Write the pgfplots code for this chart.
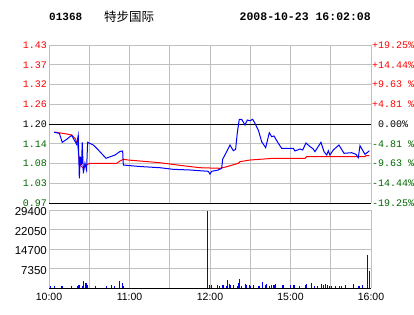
\documentclass[border=0pt]{standalone}
\usepackage{pgfplots}
\pgfplotsset{compat=1.18}
\usepackage{fontspec}
\setmainfont{Liberation Sans}
\newfontfamily\monofont{Liberation Mono}
\newfontfamily\cjk{Noto Sans CJK SC}
\definecolor{gridgray}{RGB}{192,192,192}
\definecolor{dkgreen}{RGB}{0,102,0}
\definecolor{pblue}{RGB}{0,0,255}
\definecolor{pred}{RGB}{255,0,0}
\begin{document}
\begin{tikzpicture}
\useasboundingbox (0pt,0pt) rectangle (414pt,-314pt);
\node[anchor=west, inner sep=0pt, font=\monofont\bfseries\fontsize{11}{11}\selectfont] at (49pt,-17pt) {01368};
\node[anchor=west, inner sep=0pt, font=\cjk\fontsize{12.5}{12.5}\selectfont] at (104pt,-17pt) {特步国际};
\node[anchor=east, inner sep=0pt, font=\monofont\bfseries\fontsize{11.5}{11.5}\selectfont] at (371pt,-17pt) {2008-10-23 16:02:08};
% price panel
\begin{axis}[at={(49pt,-203pt)}, anchor=south west, scale only axis,
  width=322pt, height=158pt,
  xmin=0, xmax=240, ymin=0.969, ymax=1.431,
  xtick={0,30,...,240}, xticklabels={},
  ytick={0.969,1.0268,1.0845,1.1423,1.2,1.2578,1.3155,1.3733,1.431},
  yticklabels={\textcolor{dkgreen}{0.97},\textcolor{dkgreen}{1.03},\textcolor{dkgreen}{1.08},\textcolor{dkgreen}{1.14},\textcolor{black}{1.20},\textcolor{pred}{1.26},\textcolor{pred}{1.32},\textcolor{pred}{1.37},\textcolor{pred}{1.43}},
  yticklabel style={font=\monofont\fontsize{10}{10}\selectfont, inner sep=0pt, xshift=-2pt},
  grid=major, grid style={gridgray, line width=1pt},
  axis line style={draw=none}, major tick length=0pt, clip=false]
\draw[black, line width=1pt] (axis cs:0,1.2) -- (axis cs:240,1.2);
\draw[black, line width=1pt] (axis cs:0,0.969) -- (axis cs:240,0.969);
\addplot[pred, line width=1pt, no marks] coordinates {
(3.9,1.1766)(13.2,1.1708)(16.9,1.1678)(19.4,1.1582)(21.4,1.1386)(22.6,1.0898)(23.8,1.0772)(25.6,1.0705)(27.6,1.0801)(30.6,1.0851)(50.5,1.0851)(52.9,1.0918)(55.4,1.0968)(59.1,1.0947)(67.8,1.0918)(82.7,1.0868)(97.6,1.0792)(112.5,1.0722)(127.4,1.0705)(132.4,1.0751)(141.1,1.0851)(142.3,1.0898)(149.8,1.0947)(157.3,1.0968)(167.2,1.0997)(190.8,1.0997)(192.1,1.1044)(235.5,1.1044)(236.2,1.1073)(238.7,1.1073)};
\addplot[pblue, line width=1pt, no marks] coordinates {
(3.9,1.1757)(7.7,1.1728)(9.9,1.1465)(13.2,1.1553)(16.9,1.1670)(20.6,1.1406)(21.8,1.1670)(22.6,1.0412)(23.3,1.1044)(24.2,1.0801)(24.8,1.1465)(25.6,1.0558)(26.8,1.0851)(28.0,1.0655)(28.8,1.1465)(33.0,1.1386)(35.6,1.1289)(42.5,1.0997)(49.2,1.1094)(52.9,1.1196)(54.9,1.1211)(55.4,1.0801)(59.1,1.0787)(67.8,1.0757)(82.7,1.0722)(92.6,1.0675)(105.1,1.0655)(118.7,1.0617)(120.0,1.0538)(121.3,1.0617)(126.2,1.0655)(128.7,1.0705)(129.4,1.0968)(132.4,1.1190)(134.9,1.1386)(137.4,1.1219)(139.1,1.1260)(140.3,1.1728)(141.8,1.2137)(143.6,1.2137)(146.1,1.1971)(147.8,1.2117)(149.8,1.2096)(151.8,1.2137)(153.5,1.2020)(156.0,1.1825)(158.5,1.1482)(161.5,1.1307)(164.2,1.1746)(166.0,1.1629)(167.7,1.1649)(170.2,1.1482)(173.4,1.1289)(182.1,1.1289)(183.3,1.1211)(187.1,1.1269)(189.1,1.1240)(191.5,1.1444)(194.5,1.1342)(197.0,1.1269)(198.2,1.1190)(202.7,1.1465)(205.0,1.1190)(207.0,1.1094)(208.2,1.1219)(209.4,1.1094)(211.9,1.1240)(216.1,1.1386)(219.9,1.1143)(225.6,1.1161)(228.8,1.1114)(230.5,1.1015)(231.8,1.1366)(235.5,1.1114)(238.0,1.1190)(238.7,1.1219)};
\end{axis}
% right percentage labels
\begin{axis}[at={(49pt,-203pt)}, anchor=south west, scale only axis,
  width=322pt, height=158pt,
  xmin=0, xmax=240, ymin=0.969, ymax=1.431,
  xtick=\empty, yticklabel pos=right,
  ytick={0.969,1.0268,1.0845,1.1423,1.2,1.2578,1.3155,1.3733,1.431},
  yticklabels={\textcolor{dkgreen}{-19.25\%},\textcolor{dkgreen}{-14.44\%},\textcolor{dkgreen}{-9.63\ \%},\textcolor{dkgreen}{-4.81\ \%},\textcolor{black}{\phantom{0}0.00\%},\textcolor{pred}{+4.81\ \%},\textcolor{pred}{+9.63\ \%},\textcolor{pred}{+14.44\%},\textcolor{pred}{+19.25\%}},
  yticklabel style={font=\monofont\fontsize{10}{10}\selectfont, inner sep=0pt, xshift=1pt, anchor=west},
  axis line style={draw=none}, major tick length=0pt]
\end{axis}
% volume panel
\begin{axis}[at={(49pt,-288pt)}, anchor=south west, scale only axis,
  width=322pt, height=78pt,
  xmin=0, xmax=240, ymin=0, ymax=29400,
  scaled y ticks=false,
  xtick={0,30,...,240}, xticklabels={10:00,,11:00,,12:00,,15:00,,16:00},
  xticklabel style={font=\fontsize{10.5}{10.5}\selectfont, inner sep=0pt, yshift=-5pt},
  ytick={7350,14700,22050,29400}, yticklabels={7350,14700,22050,29400},
  yticklabel style={font=\fontsize{11.5}{11.5}\selectfont, inner sep=0pt, xshift=-2pt, yshift=-2pt},
  grid=major, grid style={gridgray, line width=1pt},
  axis line style={draw=none}, major tick length=0pt, clip=false]
\draw[black, line width=1pt] (axis cs:0,0) -- (axis cs:240,0);
\addplot[pblue, ycomb, line width=1pt, no marks] coordinates {
(1.0,750)(3.9,750)(9.2,750)(9.9,750)(16.6,750)(21.1,750)(21.8,1130)(22.6,1130)(25.1,750)(25.9,2640)(27.4,2000)(28.1,1700)(28.8,1130)(34.5,750)(42.7,750)(46.4,1130)(48.7,750)(52.4,2640)(54.6,2000)(55.4,750)
(118.0,29100)(119.5,1130)(121.0,1130)(125.4,1130)(126.9,750)(129.2,1130)(129.9,1130)(132.1,750)(132.9,3000)(134.4,1500)(135.1,1130)(137.4,1130)(140.3,750)(141.1,2000)(141.8,3400)(143.3,750)(146.3,1500)(147.0,1130)(149.3,1130)(150.0,750)(152.3,1130)(156.0,750)(156.8,750)(159.0,2260)(161.2,1130)(162.0,1500)(164.2,750)(165.7,1130)(167.2,1130)(167.9,1130)(168.7,1500)(173.9,1130)(174.6,1130)(179.8,1130)(182.1,1130)(182.8,1130)(186.5,750)(191.0,1130)(191.8,1500)(195.5,1900)(197.7,750)(200.0,750)(202.9,1500)(204.4,1130)(205.9,1500)(207.4,1130)(208.9,750)(210.4,750)(213.4,750)(216.4,750)(217.9,750)(220.8,1130)(226.8,1500)(230.5,750)(231.3,750)(233.5,1130)(237.2,12440)(238.7,6400)};
\end{axis}
\end{tikzpicture}
\end{document}
